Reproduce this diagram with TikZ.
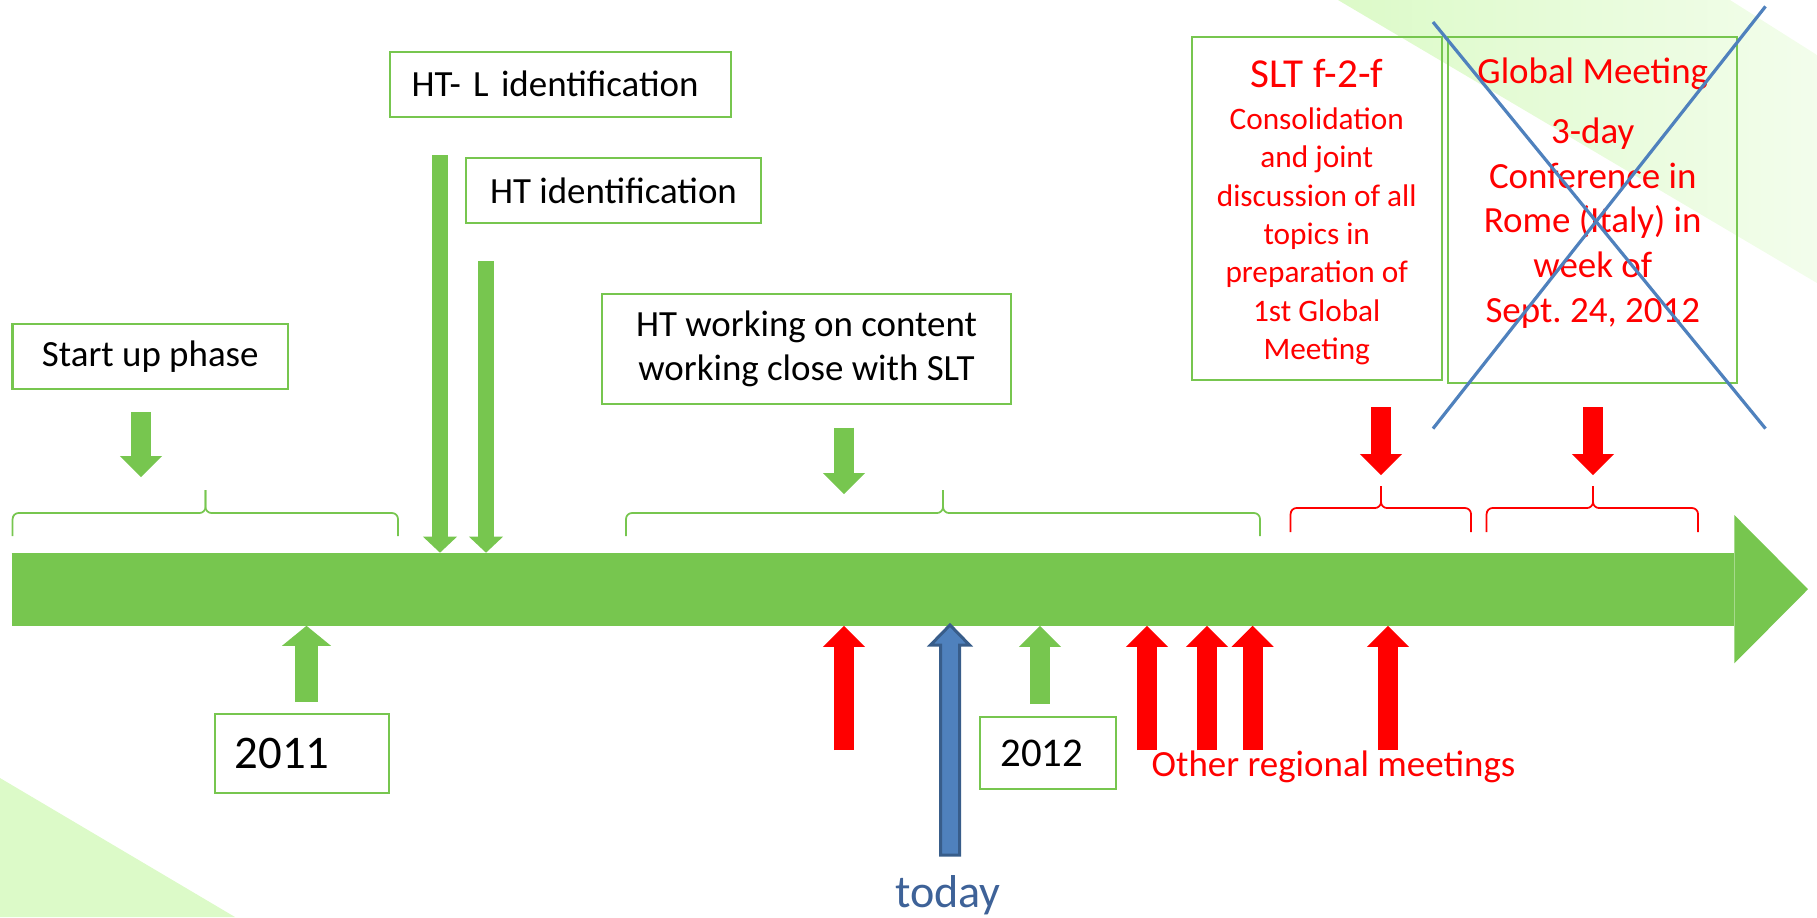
\documentclass[tikz,border=0pt]{standalone}
\usepackage{fontspec}
\setmainfont{Carlito}
\usetikzlibrary{arrows.meta}
\usetikzlibrary{positioning}

\definecolor{bargreen}{HTML}{77C64F}
\definecolor{bggreen}{HTML}{DCFAC8}
\definecolor{todayfill}{HTML}{4F81BD}
\definecolor{todayline}{HTML}{385D8A}
\definecolor{todaytext}{HTML}{3E6298}
\definecolor{crossblue}{HTML}{4F81BD}

\tikzset{
  tbox/.style={draw=bargreen, line width=0.6pt, inner sep=0pt, align=center,
    font=\fontsize{10.5}{12.7}\selectfont},
  gdown/.style={draw=bargreen, line width=0.2cm,
    -{Triangle[length=0.21cm, width=0.42cm, line width=0pt]}},
  gthin/.style={draw=bargreen, line width=0.16cm,
    -{Triangle[length=0.16cm, width=0.34cm, line width=0pt]}},
  gwide/.style={draw=bargreen, line width=0.23cm,
    -{Triangle[length=0.2cm, width=0.49cm, line width=0pt]}},
  rarrow/.style={draw=red, line width=0.2cm,
    -{Triangle[length=0.21cm, width=0.42cm, line width=0pt]}},
  gbrace/.style={draw=bargreen, line width=0.5pt, rounded corners=0.06cm},
  rbrace/.style={draw=red, line width=0.5pt, rounded corners=0.06cm},
}

\begin{document}
\begin{tikzpicture}[x=0.01cm, y=-0.01cm]
        \useasboundingbox (0,0) rectangle (1817,917);

        % slide background
        \shade [left color=bggreen, right color=bggreen!35]
          (1338,0) -- (1730,0) -- (1817,55) -- (1817,283) -- cycle;
        \fill [bggreen] (0,778) -- (235,917) -- (0,917) -- cycle;

        % the time line
        \coordinate (tl0) at (11.6,589.2);
        \coordinate (tl1) at (1808,589.2);
        \draw [bargreen, line width=0.73cm,
          -{Triangle[length=0.735cm, width=1.48cm, line width=0pt]}] (tl0) -- (tl1);

        % boxes above the line
        \node [tbox, minimum width=2.754cm, minimum height=0.65cm]
          (startup) at (150.3,356.5) {Start up phase};
        \node [tbox, minimum height=0.65cm, text width=2.978cm, inner xsep=0.216cm, align=left]
          (htl) at (560.5,84.3) {HT- L identification};
        \node [tbox, minimum width=2.95cm, minimum height=0.65cm]
          (ht) at (613.5,190.5) {HT identification};
        \node [tbox, minimum width=4.09cm, minimum height=1.107cm]
          (htw) at (806.5,349) {HT working on content\\working close with SLT};

        % meetings
        \node [tbox, minimum width=2.495cm, minimum height=3.428cm]
          (slt) at (1316.75,208.2) {};
        \node [below=0.23cm of slt.north, inner sep=0pt, align=center, text=red,
          font=\fontsize{8.9}{10.9}\selectfont]
          (sltt) {{\fontsize{11.7}{13}\selectfont SLT f-2-f}\\[1pt]
            Consolidation\\and joint\\discussion of all\\topics in\\preparation of\\1st Global\\Meeting};
        \node [tbox, minimum width=2.885cm, minimum height=3.461cm]
          (glob) at (1592.75,209.85) {};
        \node [below=0.21cm of glob.north, inner sep=0pt, align=center, text=red,
          font=\fontsize{10.5}{12.7}\selectfont]
          (globt) {Global Meeting\\[4.5pt]
            3-day\\Conference in\\Rome (Italy) in\\week of\\Sept.\ 24, 2012};

        % years
        \node [tbox, minimum height=0.79cm, text width=1.339cm, inner xsep=0.2cm, align=left,
          font=\fontsize{13.3}{16}\selectfont]
          (y2011) at (301.65,753.5) {2011};
        \node [tbox, minimum height=0.72cm, text width=0.948cm, inner xsep=0.206cm, align=left,
          font=\fontsize{11.6}{14}\selectfont]
          (y2012) at (1048,753) {2012};

        \node [anchor=base, inner sep=0pt, text=todaytext, font=\fontsize{13.1}{15}\selectfont]
          (today) at (948,907) {today};
        \node [anchor=base west, inner sep=0pt, text=red, font=\fontsize{10.5}{12.7}\selectfont]
          (others) at (1151,776.7) {Other regional meetings};

        % arrows down to the line
        \coordinate (suTail) at (141,412);
        \coordinate (suTip) at (141,477);
        \coordinate (htlTail) at (440,155);
        \coordinate (htlTip) at (440,552.7);
        \coordinate (htTail) at (486,261);
        \coordinate (htTip) at (486,552.7);
        \coordinate (htwTail) at (844,427.5);
        \coordinate (htwTip) at (844,494);
        \coordinate (sltTail) at (1381,407);
        \coordinate (sltTip) at (1381,475);
        \coordinate (globTail) at (1593,407);
        \coordinate (globTip) at (1593,475);

        \draw [gdown] (suTail) -- (suTip);
        \draw [gthin] (htlTail) -- (htlTip);
        \draw [gthin] (htTail) -- (htTip);
        \draw [gdown] (htwTail) -- (htwTip);
        \draw [rarrow] (sltTail) -- (sltTip);
        \draw [rarrow] (globTail) -- (globTip);

        % arrows up to the line
        \coordinate (a2011) at (306.5,702);
        \coordinate (t2011) at (306.5,625.8);
        \coordinate (a2012) at (1040,704);
        \coordinate (t2012) at (1040,625.8);
        \coordinate (r1) at (844,750);
        \coordinate (r1t) at (844,625.8);
        \coordinate (r2) at (1147,750);
        \coordinate (r2t) at (1147,625.8);
        \coordinate (r3) at (1207,750);
        \coordinate (r3t) at (1207,625.8);
        \coordinate (r4) at (1252.6,750);
        \coordinate (r4t) at (1252.6,625.8);
        \coordinate (r5) at (1388,750);
        \coordinate (r5t) at (1388,625.8);

        \draw [gwide] (a2011) -- (t2011);
        \draw [gdown] (a2012) -- (t2012);
        \draw [rarrow] (r1) -- (r1t);
        \draw [rarrow] (r2) -- (r2t);
        \draw [rarrow] (r3) -- (r3t);
        \draw [rarrow] (r4) -- (r4t);
        \draw [rarrow] (r5) -- (r5t);

        % today
        \coordinate (tdTip) at (950,625);
        \filldraw [fill=todayfill, draw=todayline, line width=0.03cm, line join=miter]
          (tdTip) -- ++(19.5,20) -- ++(-10,0) -- ++(0,210) -- ++(-19,0)
          -- ++(0,-210) -- ++(-10,0) -- cycle;

        % braces
        \draw [gbrace] (12.6,536) -- (12.6,513) -- (205.5,513) -- (205.5,490);
        \draw [gbrace] (205.5,490) -- (205.5,513) -- (398,513) -- (398,536);
        \draw [gbrace] (626,536) -- (626,513) -- (943,513) -- (943,490);
        \draw [gbrace] (943,490) -- (943,513) -- (1260,513) -- (1260,536);
        \draw [rbrace] (1290.6,532) -- (1290.6,508) -- (1381,508) -- (1381,486);
        \draw [rbrace] (1381,486) -- (1381,508) -- (1471,508) -- (1471,532);
        \draw [rbrace] (1486.6,532) -- (1486.6,508) -- (1593,508) -- (1593,486);
        \draw [rbrace] (1593,486) -- (1593,508) -- (1698,508) -- (1698,532);

        % crossed out
        \draw [crossblue, line width=0.032cm] (1433,22) -- (1765.5,428.6);
        \draw [crossblue, line width=0.032cm] (1765.5,6.4) -- (1433,428.6);
    \end{tikzpicture}
\end{document}
